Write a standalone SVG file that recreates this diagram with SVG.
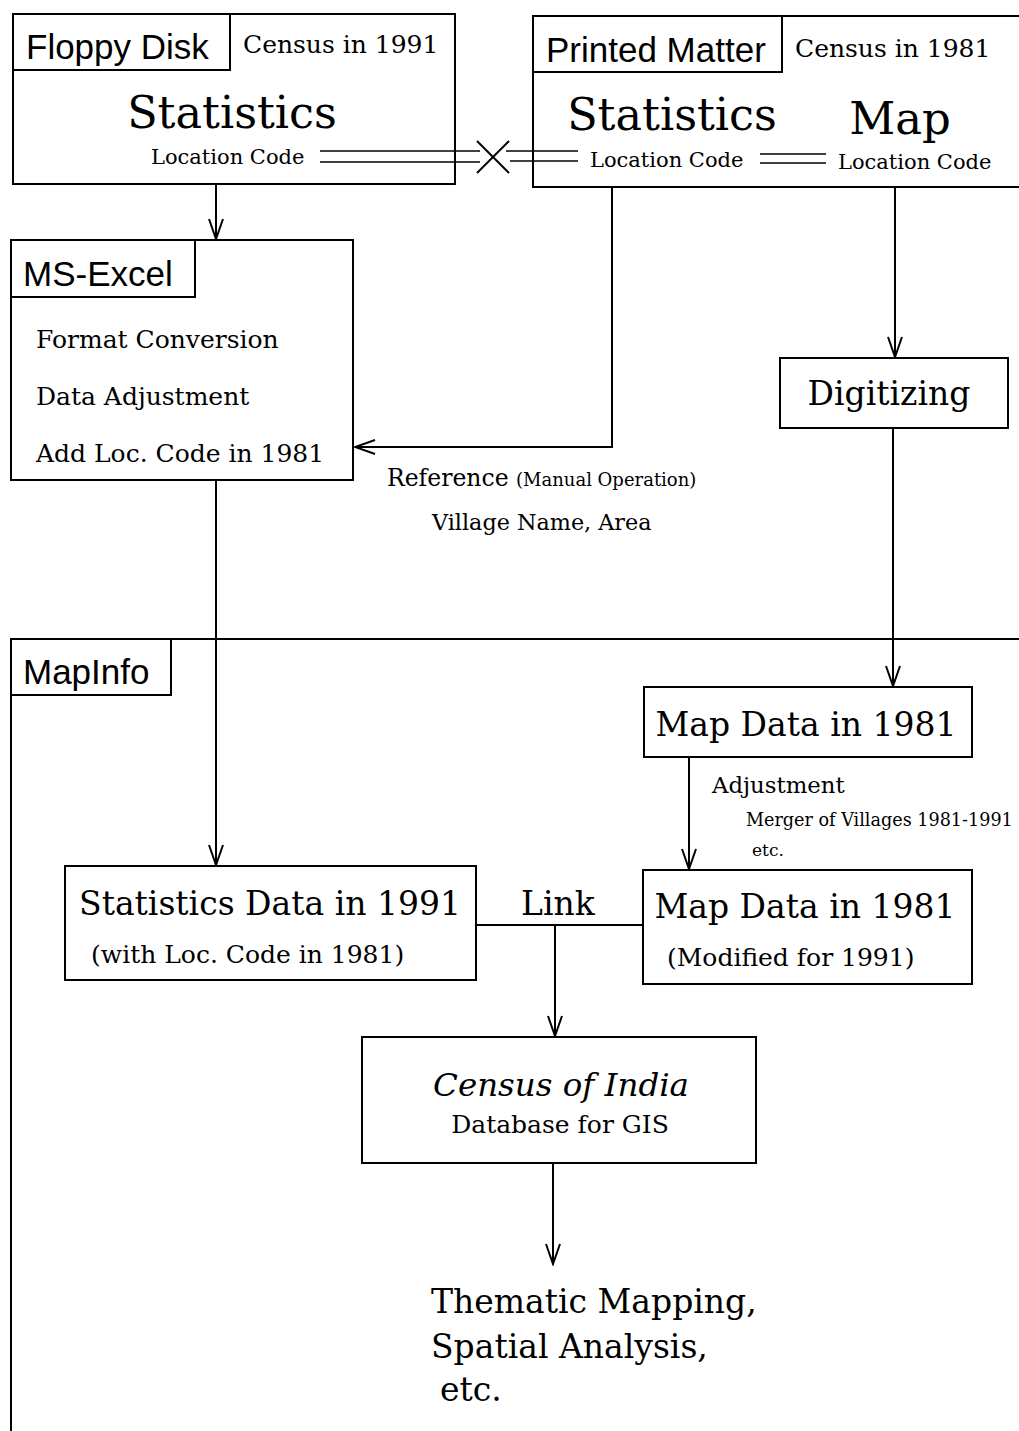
<svg xmlns="http://www.w3.org/2000/svg" width="1019" height="1431" viewBox="0 0 1019 1431">
<style>
.box{fill:none;stroke:#000;stroke-width:2}
.ln{fill:none;stroke:#000;stroke-width:2}
.thin{fill:none;stroke:#000;stroke-width:1.3}
.sans{font-family:"Liberation Sans",Arial,sans-serif;font-size:35px;fill:#000}
.serif{font-family:"DejaVu Serif","Liberation Serif",serif;fill:#000}
</style>
<defs>
<marker id="ah" markerUnits="userSpaceOnUse" markerWidth="24" markerHeight="20" viewBox="-22 -9 24 18" refX="0" refY="0" orient="auto">
<path d="M-20,-7 L0,0 L-20,7" fill="none" stroke="#000" stroke-width="2"/>
</marker>
</defs>
<rect width="1019" height="1431" fill="#fff"/>

<g id="floppy">
<rect class="box" x="13" y="14" width="442" height="170"/>
<rect class="box" x="13" y="14" width="217" height="56"/>
<text class="sans" x="26" y="59">Floppy Disk</text>
<text class="serif" x="243" y="53" font-size="25">Census in 1991</text>
<text class="serif" x="232" y="128" font-size="44.5" text-anchor="middle">Statistics</text>
<text class="serif" x="151" y="164" font-size="21">Location Code</text>
</g>

<g id="printed">
<polyline class="box" points="1019,16 533,16 533,187 1019,187"/>
<rect class="box" x="533" y="16" width="249" height="56"/>
<text class="sans" x="546" y="62">Printed Matter</text>
<text class="serif" x="795" y="57" font-size="25">Census in 1981</text>
<text class="serif" x="672" y="130" font-size="44.5" text-anchor="middle">Statistics</text>
<text class="serif" x="900" y="134" font-size="45" text-anchor="middle">Map</text>
<text class="serif" x="590" y="167" font-size="21">Location Code</text>
<text class="serif" x="838" y="169" font-size="21">Location Code</text>
</g>

<g id="msexcel">
<rect class="box" x="11" y="240" width="342" height="240"/>
<rect class="box" x="11" y="240" width="184" height="57"/>
<text class="sans" x="23" y="286">MS-Excel</text>
<text class="serif" x="36" y="348" font-size="25">Format Conversion</text>
<text class="serif" x="36" y="405" font-size="25">Data Adjustment</text>
<text class="serif" x="36" y="462" font-size="25">Add Loc. Code in 1981</text>
</g>

<g id="digitizing">
<rect class="box" x="780" y="358" width="228" height="70"/>
<text class="serif" x="889" y="405" font-size="33" text-anchor="middle">Digitizing</text>
</g>

<g id="mapinfo">
<polyline class="box" points="1019,639 11,639 11,1431"/>
<rect class="box" x="11" y="639" width="160" height="56"/>
<text class="sans" x="23" y="684">MapInfo</text>
</g>

<g id="mapdata1981">
<rect class="box" x="644" y="687" width="328" height="70"/>
<text class="serif" x="806" y="736" font-size="33" text-anchor="middle">Map Data in 1981</text>
</g>

<g id="mapdatamod">
<rect class="box" x="643" y="870" width="329" height="114"/>
<text class="serif" x="805" y="918" font-size="33" text-anchor="middle">Map Data in 1981</text>
<text class="serif" x="667" y="966" font-size="25">(Modified for 1991)</text>
</g>

<g id="statdata">
<rect class="box" x="65" y="866" width="411" height="114"/>
<text class="serif" x="270" y="915" font-size="33" text-anchor="middle">Statistics Data in 1991</text>
<text class="serif" x="91" y="963" font-size="25">(with Loc. Code in 1981)</text>
</g>

<g id="census">
<rect class="box" x="362" y="1037" width="394" height="126"/>
<text class="serif" x="561" y="1096" font-size="32.5" font-style="italic" text-anchor="middle">Census of India</text>
<text class="serif" x="560" y="1133" font-size="25" text-anchor="middle">Database for GIS</text>
</g>

<g id="output">
<text class="serif" x="431" y="1313" font-size="33">Thematic Mapping,</text>
<text class="serif" x="431" y="1358" font-size="33">Spatial Analysis,</text>
<text class="serif" x="440" y="1401" font-size="33">etc.</text>
</g>

<g id="connectors">
<line class="thin" x1="320" y1="151" x2="480" y2="151"/>
<line class="thin" x1="320" y1="162" x2="480" y2="162"/>
<line class="ln" x1="477" y1="141" x2="509" y2="173"/>
<line class="ln" x1="477" y1="173" x2="509" y2="141"/>
<line class="thin" x1="506" y1="151" x2="578" y2="151"/>
<line class="thin" x1="510" y1="161" x2="578" y2="161"/>
<line class="thin" x1="760" y1="154" x2="826" y2="154"/>
<line class="thin" x1="760" y1="163" x2="826" y2="163"/>

<line class="ln" x1="216" y1="184" x2="216" y2="239" marker-end="url(#ah)"/>
<polyline class="ln" points="612,187 612,447 355,447" marker-end="url(#ah)"/>
<line class="ln" x1="895" y1="187" x2="895" y2="357" marker-end="url(#ah)"/>
<line class="ln" x1="893" y1="428" x2="893" y2="686" marker-end="url(#ah)"/>
<line class="ln" x1="216" y1="480" x2="216" y2="865" marker-end="url(#ah)"/>
<line class="ln" x1="689" y1="757" x2="689" y2="869" marker-end="url(#ah)"/>
<line class="ln" x1="476" y1="925" x2="643" y2="925"/>
<line class="ln" x1="555" y1="925" x2="555" y2="1036" marker-end="url(#ah)"/>
<line class="ln" x1="553" y1="1163" x2="553" y2="1264" marker-end="url(#ah)"/>

<text class="serif" x="387" y="486" font-size="23.5">Reference <tspan font-size="18">(Manual Operation)</tspan></text>
<text class="serif" x="432" y="530" font-size="22.3">Village Name, Area</text>
<text class="serif" x="712" y="793" font-size="22.8">Adjustment</text>
<text class="serif" x="746" y="826" font-size="17.6">Merger of Villages 1981-1991</text>
<text class="serif" x="752" y="856" font-size="17">etc.</text>
<text class="serif" x="521" y="915" font-size="33">Link</text>
</g>
</svg>
